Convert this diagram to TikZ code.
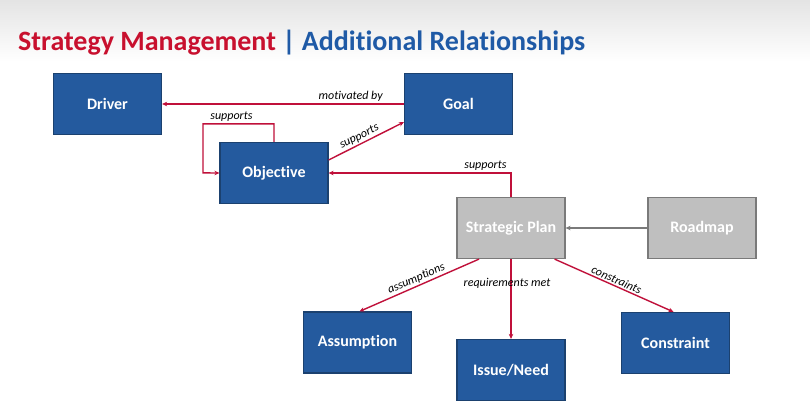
\documentclass[tikz,border=0pt]{standalone}
\usepackage{fontspec}
\setmainfont{Carlito}[Ligatures={NoCommon}]
\usetikzlibrary{arrows.meta}
\definecolor{boxblue}{HTML}{245A9E}
\definecolor{boxedge}{HTML}{1B416F}
\definecolor{grayfill}{HTML}{BFBFBF}
\definecolor{grayedge}{HTML}{7A7A7A}
\definecolor{linered}{HTML}{C0103A}
\definecolor{titlered}{HTML}{C8102E}
\definecolor{titleblue}{HTML}{1F5AA6}
\definecolor{topgray}{HTML}{E4E4E4}
\begin{document}
\begin{tikzpicture}[x=1pt,y=-1pt,
  bluebox/.style={draw=boxedge, line width=1.2pt, fill=boxblue, text=white,
    font=\bfseries\fontsize{16}{18}\selectfont, minimum width=108pt, minimum height=61pt, inner sep=0pt},
  graybox/.style={draw=grayedge, line width=1.2pt, fill=grayfill, text=white,
    font=\bfseries\fontsize{16}{18}\selectfont, minimum width=108pt, minimum height=61pt, inner sep=0pt},
  redarrow/.style={draw=linered, line width=1.4pt, -{Stealth[length=5pt,width=4.5pt]}},
  grayarrow/.style={draw=grayedge, line width=1.4pt, -{Stealth[length=5pt,width=4.5pt]}},
  lbl/.style={font=\itshape\fontsize{12}{14}\selectfont, text=black, inner sep=1.5pt}
]
\useasboundingbox (0,0) rectangle (810,402);
\shade[top color=topgray, bottom color=white] (0,0) rectangle (810,62);
\fill[white] (0,62) rectangle (810,402);

\node[anchor=base west, inner sep=0pt, font=\bfseries\fontsize{28}{32}\selectfont] (title) at (18,50)
  {\textcolor{titlered}{Strategy Management} \textcolor{titleblue}{| Additional Relationships}};

\node[bluebox] (driver) at (107.5,104) {Driver};
\node[bluebox] (goal) at (458.5,104) {Goal};
\node[bluebox] (obj) at (274,173) {Objective};
\node[graybox] (sp) at (511,228) {Strategic Plan};
\node[graybox] (road) at (702,228) {Roadmap};
\node[bluebox] (assum) at (357.5,342.5) {Assumption};
\node[bluebox] (issue) at (511,370) {Issue/Need};
\node[bluebox] (cons) at (675.5,343) {Constraint};

\draw[redarrow] (goal.west) -- node[lbl, pos=0.22, above] {motivated by} (driver.east);
\draw[redarrow] (obj.north) -- ++(0,-18) -- node[lbl, pos=0.6, above] {supports} ++(-71,0) -- ++(0,49) -- (obj.west);
\draw[redarrow] ([yshift=13pt]obj.east) -- node[lbl, pos=0.45, sloped, above] {supports} ([yshift=13pt]goal.south west);
\draw[redarrow] (sp.north) |- node[lbl, pos=0.57, above] {supports} (obj.east);
\draw[grayarrow] (road.west) -- (sp.east);
\draw[redarrow] ([xshift=-32pt]sp.south) -- node[lbl, midway, sloped, above] {assumptions} ([xshift=2pt]assum.north);
\draw[redarrow] (sp.south) -- node[lbl, pos=0.3, xshift=-4pt] {requirements met} (issue.north);
\draw[redarrow] ([xshift=-11pt]sp.south east) -- node[lbl, midway, sloped, above] {constraints} ([xshift=-2pt]cons.north);
\end{tikzpicture}
\end{document}
